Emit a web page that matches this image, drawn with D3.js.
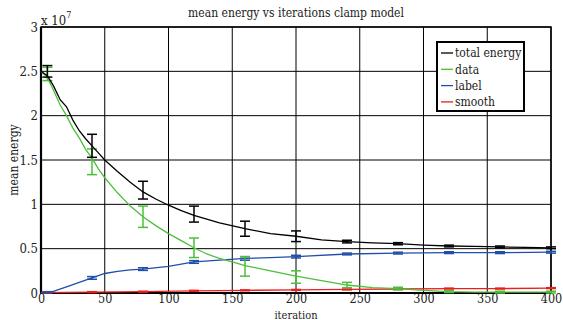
<!DOCTYPE html>
<html>
<head>
<meta charset="utf-8">
<script src="https://cdn.jsdelivr.net/npm/d3@7"></script>
<style>
  body { margin: 0; background: #fff; }
  svg text { font-stretch: condensed; }
</style>
</head>
<body>
<svg id="chart" width="563" height="320"></svg>
<script>
// values in units of 1e7
const totalIter = [0, 5, 10, 15, 20, 25, 30, 35, 40, 45, 50, 60, 70, 80, 90, 100, 110, 120, 140, 160, 180, 200, 220, 240, 260, 280, 300, 320, 340, 360, 380, 400];
const totalVal = [2.5, 2.45, 2.33, 2.18, 2.1, 1.95, 1.83, 1.74, 1.66, 1.58, 1.5, 1.37, 1.25, 1.14, 1.06, 0.99, 0.93, 0.875, 0.79, 0.725, 0.67, 0.64, 0.6, 0.58, 0.565, 0.556, 0.54, 0.53, 0.525, 0.52, 0.515, 0.51];

const dataIter = [0, 5, 10, 15, 20, 25, 30, 35, 40, 45, 50, 60, 70, 80, 90, 100, 110, 120, 130, 140, 150, 160, 180, 200, 220, 240, 260, 280, 300, 320, 340, 360, 380, 400];
const dataVal = [2.5, 2.43, 2.28, 2.12, 2.0, 1.86, 1.75, 1.62, 1.52, 1.4, 1.3, 1.13, 0.98, 0.86, 0.76, 0.67, 0.59, 0.51, 0.44, 0.39, 0.35, 0.31, 0.25, 0.19, 0.14, 0.09, 0.06, 0.05, 0.03, 0.015, 0.01, 0.01, 0.01, 0.01];

const labelIter = [0, 8, 20, 30, 40, 50, 60, 70, 80, 100, 120, 140, 160, 180, 200, 240, 280, 320, 360, 400];
const labelVal = [0.01, 0.01, 0.07, 0.12, 0.17, 0.22, 0.245, 0.26, 0.27, 0.3, 0.35, 0.37, 0.39, 0.4, 0.41, 0.44, 0.45, 0.455, 0.455, 0.46];

const smoothIter = [0, 40, 80, 120, 160, 200, 240, 280, 320, 360, 400];
const smoothVal = [0.005, 0.01, 0.015, 0.025, 0.03, 0.035, 0.04, 0.045, 0.05, 0.05, 0.055];

// error bars
const errIter = [5, 40, 80, 120, 160, 200, 240, 280, 320, 360, 400];
const totalMean = [2.5, 1.66, 1.16, 0.89, 0.725, 0.64, 0.58, 0.556, 0.53, 0.52, 0.51];
const totalErr = [0.065, 0.13, 0.1, 0.09, 0.085, 0.06, 0.015, 0.012, 0.01, 0.01, 0.01];
const dataMean = [2.47, 1.48, 0.86, 0.51, 0.3, 0.18, 0.09, 0.05, 0.015, 0.01, 0.01];
const dataErr = [0.075, 0.145, 0.12, 0.11, 0.11, 0.07, 0.03, 0.015, 0.01, 0.01, 0.01];
const labelMean = [0.01, 0.17, 0.27, 0.35, 0.39, 0.41, 0.44, 0.45, 0.455, 0.455, 0.46];
const labelErr = [0.005, 0.015, 0.015, 0.015, 0.02, 0.015, 0.01, 0.01, 0.01, 0.01, 0.01];
const smoothErr = [0.005, 0.005, 0.005, 0.005, 0.005, 0.005, 0.005, 0.005, 0.005, 0.005, 0.005];

const seriesNames = ["total energy", "data", "label", "smooth"];
const seriesColors = ["#000000", "#4cbf3a", "#1f4fa8", "#ee1c1c"];

const xTicks = [0, 50, 100, 150, 200, 250, 300, 350, 400];
const yTicks = [0, 0.5, 1, 1.5, 2, 2.5, 3];

const FONT = "'DejaVu Serif Condensed', 'DejaVu Serif', serif";

const svg = d3.select("#chart").attr("font-family", FONT);
const margin = {top: 27, right: 12, bottom: 27, left: 41};
const width = 563 - margin.left - margin.right;
const height = 320 - margin.top - margin.bottom;

const g = svg.append("g")
  .attr("transform", "translate(" + margin.left + "," + margin.top + ")");

const x = d3.scaleLinear().domain([0, 400]).range([0, width]);
const y = d3.scaleLinear().domain([0, 3]).range([height, 0]);

// grid
g.append("g").selectAll("line").data(xTicks).enter().append("line")
  .attr("x1", d => x(d)).attr("x2", d => x(d))
  .attr("y1", 0).attr("y2", height)
  .attr("stroke", "#000").attr("stroke-width", 1);
g.append("g").selectAll("line").data(yTicks).enter().append("line")
  .attr("x1", 0).attr("x2", width)
  .attr("y1", d => y(d)).attr("y2", d => y(d))
  .attr("stroke", "#000").attr("stroke-width", 1);

// axes
const xAxis = g.append("g")
  .attr("transform", "translate(0," + height + ")")
  .call(d3.axisBottom(x).tickValues(xTicks).tickSize(0).tickPadding(1).tickFormat(d3.format("d")));
const yAxis = g.append("g")
  .call(d3.axisLeft(y).tickValues(yTicks).tickSize(0).tickPadding(3).tickFormat(d => d === 0 ? "0" : d3.format("")(d)));
[xAxis, yAxis].forEach(a => {
  a.attr("font-family", FONT);
  a.select(".domain").remove();
  a.selectAll("text").attr("font-size", 13).attr("fill", "#222");
});
xAxis.selectAll("text").attr("font-size", 12.5);
yAxis.selectAll("text").attr("dy", "0.32em");

// frame
g.append("rect")
  .attr("x", 0).attr("y", 0).attr("width", width).attr("height", height)
  .attr("fill", "none").attr("stroke", "#000").attr("stroke-width", 1.5);
g.append("line")
  .attr("x1", 0).attr("x2", 0).attr("y1", 0).attr("y2", height)
  .attr("stroke", "#000").attr("stroke-width", 2.2);
g.append("line")
  .attr("x1", 0).attr("x2", width).attr("y1", height).attr("y2", height)
  .attr("stroke", "#000").attr("stroke-width", 2.2);

const line = d3.line().x(d => x(d[0])).y(d => y(d[1]));

function drawSeries(iters, vals, means, errs, color) {
  g.append("path")
    .datum(iters.map((t, i) => [t, vals[i]]))
    .attr("d", line)
    .attr("fill", "none").attr("stroke", color).attr("stroke-width", 1.3);
  const eb = g.append("g").attr("stroke", color).attr("stroke-width", 1.5);
  errIter.forEach((t, i) => {
    const cx = x(t), y0 = y(means[i] - errs[i]), y1 = y(means[i] + errs[i]);
    eb.append("line").attr("x1", cx).attr("x2", cx).attr("y1", y0).attr("y2", y1);
    eb.append("line").attr("x1", cx - 5).attr("x2", cx + 5).attr("y1", y0).attr("y2", y0);
    eb.append("line").attr("x1", cx - 5).attr("x2", cx + 5).attr("y1", y1).attr("y2", y1);
  });
}

drawSeries(smoothIter, smoothVal, smoothVal, smoothErr, seriesColors[3]);
drawSeries(labelIter, labelVal, labelMean, labelErr, seriesColors[2]);
drawSeries(dataIter, dataVal, dataMean, dataErr, seriesColors[1]);
drawSeries(totalIter, totalVal, totalMean, totalErr, seriesColors[0]);

// title and labels
svg.append("text")
  .attr("x", margin.left + width / 2).attr("y", 17)
  .attr("text-anchor", "middle").attr("font-size", 12).attr("fill", "#222")
  .text("mean energy vs iterations clamp model");

svg.append("text")
  .attr("x", margin.left + width / 2).attr("y", 318.5)
  .attr("text-anchor", "middle").attr("font-size", 11).attr("fill", "#222")
  .text("iteration");

svg.append("text")
  .attr("transform", "translate(18," + (margin.top + height / 2) + ") rotate(-90)")
  .attr("text-anchor", "middle").attr("font-size", 12).attr("fill", "#222")
  .text("mean energy");

const expo = svg.append("text")
  .attr("x", 41).attr("y", 25).attr("font-size", 13).attr("fill", "#222");
expo.append("tspan").text("x 10");
expo.append("tspan").attr("font-size", 9).attr("dy", -7).text("7");

// legend
const lg = svg.append("g").attr("transform", "translate(437,42)");
lg.append("rect")
  .attr("width", 87).attr("height", 69)
  .attr("fill", "#fff").attr("stroke", "#000").attr("stroke-width", 2);
seriesNames.forEach((name, i) => {
  const ly = 11 + i * 16.3;
  lg.append("line")
    .attr("x1", 4).attr("x2", 16).attr("y1", ly).attr("y2", ly)
    .attr("stroke", seriesColors[i]).attr("stroke-width", 1.3);
  lg.append("text")
    .attr("x", 18).attr("y", ly).attr("dy", "0.35em")
    .attr("font-size", 12).attr("fill", "#222")
    .text(name);
});
</script>
</body>
</html>
